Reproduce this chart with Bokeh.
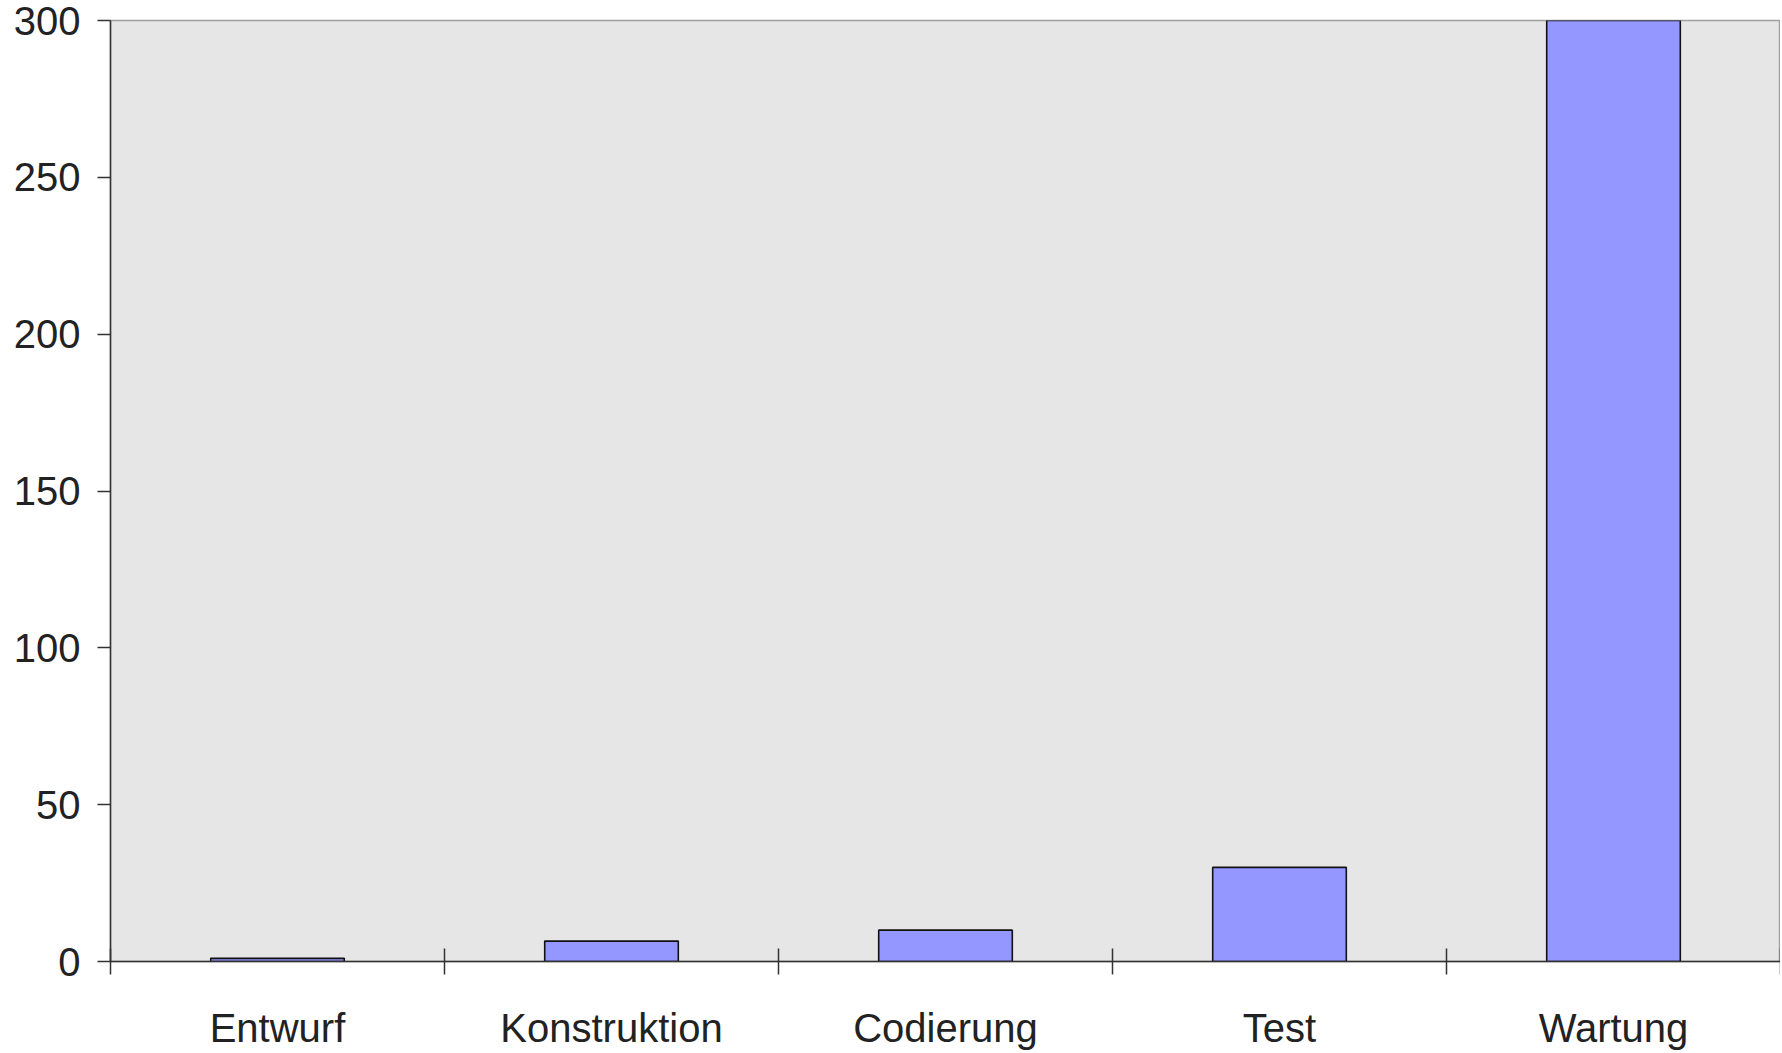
from bokeh.plotting import figure
from bokeh.models import Range1d, FixedTicker
from bokeh.embed import file_html
from bokeh.resources import INLINE

categories = ["Entwurf", "Konstruktion", "Codierung", "Test", "Wartung"]
values = [1, 6.5, 10, 30, 300]
y_ticks = [0, 50, 100, 150, 200, 250, 300]

FONT = "Liberation Sans"
TXT = "#222222"

p = figure(width=1780, height=1052, output_backend="svg", toolbar_location=None,
           x_range=Range1d(0, len(categories)), y_range=Range1d(0, 300),
           min_border_left=110, min_border_right=0, min_border_top=20, min_border_bottom=90)

p.background_fill_color = "#e6e6e6"
p.border_fill_color = "white"
p.outline_line_color = "#a0a0a0"
p.outline_line_width = 1.5
p.xgrid.visible = False
p.ygrid.visible = False

xs = [i + 0.5 for i in range(len(categories))]
p.vbar(x=xs, top=values, bottom=0, width=0.4, fill_color="#9497ff",
       line_color="#111111", line_width=1.6)

# x axis: labels at category centers, tick marks at category boundaries
xa = p.xaxis[0]
xa.ticker = FixedTicker(ticks=xs, minor_ticks=list(range(len(categories) + 1)))
xa.major_label_overrides = {x: c for x, c in zip(xs, categories)}
xa.major_tick_line_color = None
xa.major_tick_in = 0
xa.major_tick_out = 0
xa.minor_tick_line_color = "#333333"
xa.minor_tick_line_width = 1.5
xa.minor_tick_in = 13
xa.minor_tick_out = 13
xa.axis_line_color = "#333333"
xa.axis_line_width = 1.5
xa.major_label_text_font = FONT
xa.major_label_text_font_size = "40px"
xa.major_label_text_color = TXT
xa.major_label_standoff = 31

ya = p.yaxis[0]
ya.ticker = FixedTicker(ticks=y_ticks)
ya.minor_tick_line_color = None
ya.major_tick_in = 0
ya.major_tick_out = 13
ya.major_tick_line_color = "#333333"
ya.major_tick_line_width = 1.5
ya.axis_line_color = "#333333"
ya.axis_line_width = 1.5
ya.major_label_text_font = FONT
ya.major_label_text_font_size = "40px"
ya.major_label_text_color = TXT
ya.major_label_standoff = 17

open("out.html", "w").write(file_html(p, INLINE))
